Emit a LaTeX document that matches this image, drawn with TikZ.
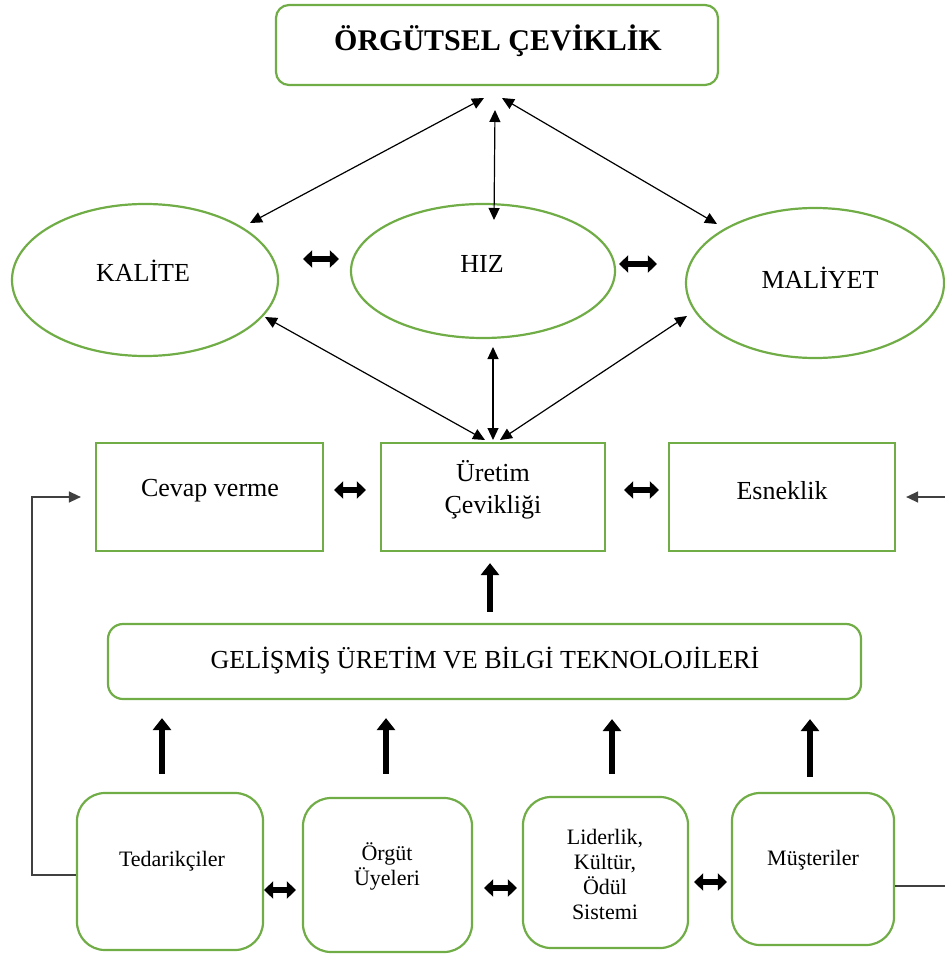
\documentclass[tikz,border=0pt]{standalone}
\usepackage{fontspec}
\setmainfont{Liberation Serif}
\usetikzlibrary{arrows.meta,shapes.geometric}
\definecolor{frame}{HTML}{70AD47}
\begin{document}
\begin{tikzpicture}[x=1pt,y=-1pt,
  shapebox/.style={draw=frame,line width=2.2pt,inner sep=0pt},
  oval/.style={shapebox,ellipse},
  softbox/.style={shapebox,rounded corners=28pt},
  big/.style={font=\fontsize{26}{32}\selectfont},
  small/.style={font=\fontsize{22}{25}\selectfont,align=center},
  thinarrow/.style={line width=1.2pt,<->,>={Triangle[length=12pt,width=11pt]}},
  dbl/.style={line width=5.5pt,<->,>={Triangle[length=9pt,width=17pt]}},
  uparrow/.style={line width=6pt,-{Triangle[length=12pt,width=18pt]}},
  fb/.style={line width=1.4pt,draw=black!75,-{Triangle[length=12pt,width=11pt]}}
]
\useasboundingbox (0,0) rectangle (944,965);

% top level
\node[shapebox,rounded corners=13pt,minimum width=442pt,minimum height=80pt] (top) at (497,45) {};
\node[font=\fontsize{30}{32}\selectfont\bfseries] (t-top) at (498,41) {ÖRGÜTSEL ÇEVİKLİK};

% three competitive dimensions
\node[oval,minimum width=266pt,minimum height=152pt] (kal) at (145,280) {};
\node[oval,minimum width=264pt,minimum height=134pt] (hiz) at (483,271) {};
\node[oval,minimum width=258pt,minimum height=150pt] (mal) at (815,283) {};
\node[big] (t-kal) at (143,271) {KALİTE};
\node[big] (t-hiz) at (482,264) {HIZ};
\node[big] (t-mal) at (820,278) {MALİYET};

% manufacturing agility row
\node[shapebox,minimum width=227pt,minimum height=108pt] (cev) at (209.5,497) {};
\node[shapebox,minimum width=224pt,minimum height=108pt] (ure) at (493,497) {};
\node[shapebox,minimum width=226pt,minimum height=108pt] (esn) at (782,497) {};
\node[big] (t-cev) at (210,491) {Cevap verme};
\node[big,align=center,font=\fontsize{26}{32}\selectfont] (t-ure) at (493,490) {Üretim\\Çevikliği};
\node[big] (t-esn) at (782,491) {Esneklik};

% technologies
\node[shapebox,rounded corners=15pt,minimum width=753pt,minimum height=75pt] (gel) at (484.5,661.5) {};
\node[big] (t-gel) at (485,661) {GELİŞMİŞ ÜRETİM VE BİLGİ TEKNOLOJİLERİ};

% enablers
\node[softbox,minimum width=186pt,minimum height=157pt] (ted) at (170,871.5) {};
\node[softbox,minimum width=169pt,minimum height=154pt] (org) at (387.5,875) {};
\node[softbox,minimum width=165pt,minimum height=151pt] (lid) at (605.5,872.5) {};
\node[softbox,minimum width=162pt,minimum height=152pt] (mus) at (813,869) {};
\node[small] (t-ted) at (172,861) {Tedarikçiler};
\node[small] (t-org) at (387,866) {Örgüt\\Üyeleri};
\node[small] (t-lid) at (605,874) {Liderlik,\\Kültür,\\Ödül\\Sistemi};
\node[small] (t-mus) at (813,860) {Müşteriler};

% thin links to the top and to production agility
\draw[thinarrow] ([shift={(-13,53)}]top.center) -- ([shift={(105,-57)}]kal.center);
\draw[thinarrow] ([shift={(5,53)}]top.center) -- ([shift={(-98,-59)}]mal.center);
\draw[thinarrow] ([shift={(-2,65)}]top.center) -- ([shift={(11,-51)}]hiz.center);
\draw[thinarrow] ([shift={(-8,-57)}]ure.center) -- ([shift={(120,37)}]kal.center);
\draw[thinarrow] ([shift={(7,-57)}]ure.center) -- ([shift={(-128,33)}]mal.center);
\draw[thinarrow] ([shift={(0,-57)}]ure.center) -- ([shift={(10,76)}]hiz.center);

% short two-way links
\draw[dbl] ([shift={(24,-21)}]kal.east) -- ([shift={(-11,-12)}]hiz.west);
\draw[dbl] ([shift={(3,-7)}]hiz.east) -- ([shift={(-28,-19)}]mal.west);
\draw[dbl] ([shift={(10,-7)}]cev.east) -- ([shift={(-14,-7)}]ure.west);
\draw[dbl] ([shift={(18,-7)}]ure.east) -- ([shift={(-9,-7)}]esn.west);
\draw[dbl] ([shift={(0,18.5)}]ted.east) -- ([shift={(-6,15)}]org.west);
\draw[dbl] ([shift={(11,13)}]org.east) -- ([shift={(-5,15.5)}]lid.west);
\draw[dbl] ([shift={(5,9.5)}]lid.east) -- ([shift={(-4,13)}]mus.west);

% upward contributions
\draw[uparrow] ([shift={(-8,-18)}]ted.north) -- ([shift={(-322.5,18)}]gel.south);
\draw[uparrow] ([shift={(-1.5,-23)}]org.north) -- ([shift={(-98.5,18)}]gel.south);
\draw[uparrow] ([shift={(6.5,-22)}]lid.north) -- ([shift={(127.5,19)}]gel.south);
\draw[uparrow] ([shift={(-3,-15)}]mus.north) -- ([shift={(325.5,19)}]gel.south);
\draw[uparrow] ([shift={(5.5,-11)}]gel.north) -- ([shift={(-3,11)}]ure.south);

% feedback lines
\draw[fb] ([shift={(0,3.5)}]ted.west) -- ++(-44,0) |- ([xshift=-14pt]cev.west);
\draw[fb] ([shift={(0,17)}]mus.east) -- ++(56,0) |- ([xshift=10pt]esn.east);
\end{tikzpicture}
\end{document}
